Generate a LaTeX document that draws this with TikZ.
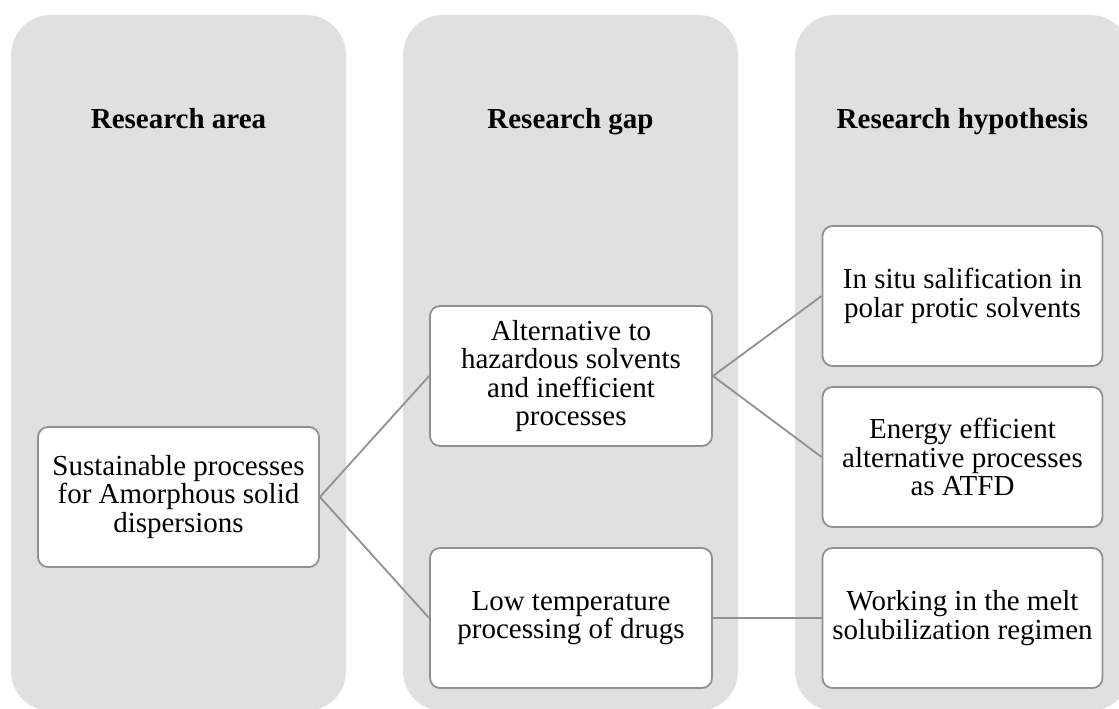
\documentclass[tikz,border=0pt]{standalone}
\usepackage{fontspec}
\setmainfont{Liberation Serif}
\usetikzlibrary{positioning}
\definecolor{columngray}{RGB}{224, 224, 224}
\definecolor{edgegray}{RGB}{145, 145, 145}

\begin{document}
\begin{tikzpicture}[x=1pt, y=-1pt,
    column/.style={fill=columngray, rounded corners=40pt},
    heading/.style={anchor=base, font=\fontsize{29}{29}\selectfont\bfseries},
    item/.style={draw=edgegray, fill=white, line width=1.8pt, rounded corners=10pt,
                 minimum width=282pt, minimum height=140pt, inner sep=0pt,
                 align=center, font=\fontsize{29}{28.5}\selectfont},
    link/.style={draw=edgegray, line width=1.8pt}]

    % Frame
    \useasboundingbox (0,0) rectangle (1119,709);
    \clip (0,0) rectangle (1119,709);

    % Columns
    \fill[column] (11,15) rectangle (346,711);
    \fill[column] (403,15) rectangle (738,711);
    \fill[column] (795,15) rectangle (1130,711);

    % Headings
    \node[heading] (harea) at (178.5,128) {Research area};
    \node[heading] (hgap) at (570.5,128) {Research gap};
    \node[heading] (hhyp) at (962.5,128) {Research hypothesis};

    % Research area
    \node[item, minimum width=281pt] (sap) at (178.5,497) {Sustainable processes\\for Amorphous solid\\dispersions};

    % Research gap
    \node[item] (alt) at (571,376) {Alternative to\\hazardous solvents\\and inefficient\\processes};
    \node[item] (low) at (571,618) {Low temperature\\processing of drugs};

    % Research hypothesis
    \node[item, minimum width=280pt] (insitu) at (962.5,296) {In situ salification in\\polar protic solvents};
    \node[item, minimum width=280pt] (energy) at (962.5,457) {Energy efficient\\alternative processes\\as ATFD};
    \node[item, minimum width=280pt] (melt) at (962.5,618) {Working in the melt\\solubilization regimen};

    % Links
    \draw[link] (sap.east) -- (alt.west);
    \draw[link] (sap.east) -- (low.west);
    \draw[link] (alt.east) -- (insitu.west);
    \draw[link] (alt.east) -- (energy.west);
    \draw[link] (low.east) -- (melt.west);

\end{tikzpicture}
\end{document}
